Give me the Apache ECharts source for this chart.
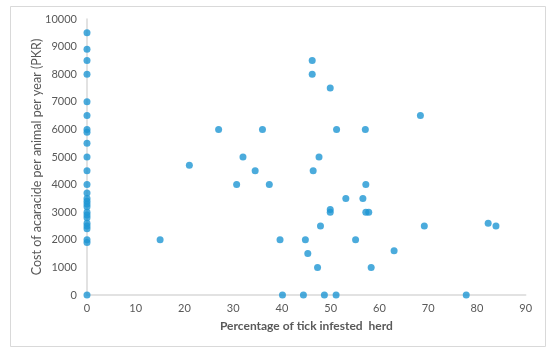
<!DOCTYPE html>
<html>
<head>
<meta charset="utf-8">
<script src="https://cdn.jsdelivr.net/npm/echarts@6/dist/echarts.min.js"></script>
<style>
html,body{margin:0;padding:0;background:#fff;}
#chart{width:550px;height:355px;}
</style>
</head>
<body>
<div id="chart"></div>
<script>
// Percentage of tick infested herd (x) and cost per animal per year in PKR (y)
const herdInfestedPct = [
  0,0,0,0,0,0,0,0,0,0,0,0,0,0,0,0,0,0,0,0,0,0,0,0,0,0,
  15,21,27,32,30.7,34.5,36,37.4,39.6,40.1,44.4,44.8,45.3,46.2,46.2,46.4,47.3,47.6,47.9,48.7,
  49.9,49.9,49.9,51.1,51.2,53.1,55.1,56.6,57.1,57.2,57.2,57.8,58.3,63,68.4,69.2,77.8,82.3,83.9
];
const acaricideCost = [
  9500,8900,8500,8000,7000,6500,6000,5900,5500,5000,4500,4000,3700,3500,3400,3300,3200,3000,2900,2800,2600,2500,2400,2000,1900,0,
  2000,4700,6000,5000,4000,4500,6000,4000,2000,0,0,2000,1500,8500,8000,4500,1000,5000,2500,0,
  7500,3100,3000,0,6000,3500,2000,3500,6000,4000,3000,3000,1000,1600,6500,2500,0,2600,2500
];
const xTicks = {min: 0, max: 90, interval: 10};
const yTicks = {min: 0, max: 10000, interval: 1000};
const xTitle = 'Percentage of tick infested  herd';
const yTitle = 'Cost of acaracide per animal per year (PKR)';

const points = herdInfestedPct.map((x, i) => [x, acaricideCost[i]]);

const chart = echarts.init(document.getElementById('chart'), null, {renderer: 'canvas'});
const labelColor = '#595959';
const fontFam = 'Lato, "Open Sans", sans-serif';
chart.setOption({
  animation: false,
  backgroundColor: '#ffffff',
  graphic: [{
    type: 'rect',
    shape: {x: 10.5, y: 6.5, width: 535, height: 340},
    style: {fill: 'none', stroke: '#d9d9d9', lineWidth: 1},
    silent: true
  }],
  grid: {left: 87, right: 24.3, top: 19, bottom: 60, containLabel: false},
  xAxis: {
    type: 'value',
    min: xTicks.min, max: xTicks.max, interval: xTicks.interval,
    name: xTitle,
    nameLocation: 'middle',
    nameGap: 25,
    nameMoveOverlap: false,
    nameTextStyle: {color: labelColor, fontFamily: fontFam, fontSize: 12, fontWeight: 'bold'},
    axisLine: {show: true, lineStyle: {color: '#d9d9d9', width: 1.5}},
    axisTick: {show: false},
    splitLine: {show: false},
    axisLabel: {color: labelColor, fontFamily: fontFam, fontSize: 11, margin: 8, formatter: v => String(v)}
  },
  yAxis: {
    type: 'value',
    min: yTicks.min, max: yTicks.max, interval: yTicks.interval,
    name: yTitle,
    nameLocation: 'middle',
    nameGap: 44,
    nameRotate: 90,
    nameMoveOverlap: false,
    nameTextStyle: {color: labelColor, fontFamily: fontFam, fontSize: 12.5},
    axisLine: {show: true, onZero: false, lineStyle: {color: '#d9d9d9', width: 1.5}},
    axisTick: {show: false},
    splitLine: {show: false},
    axisLabel: {color: labelColor, fontFamily: fontFam, fontSize: 11, margin: 10, formatter: v => String(v)}
  },
  series: [{
    type: 'scatter',
    data: points,
    symbol: 'circle',
    symbolSize: 7,
    itemStyle: {color: '#1e96d3'}
  }]
});
</script>
</body>
</html>
